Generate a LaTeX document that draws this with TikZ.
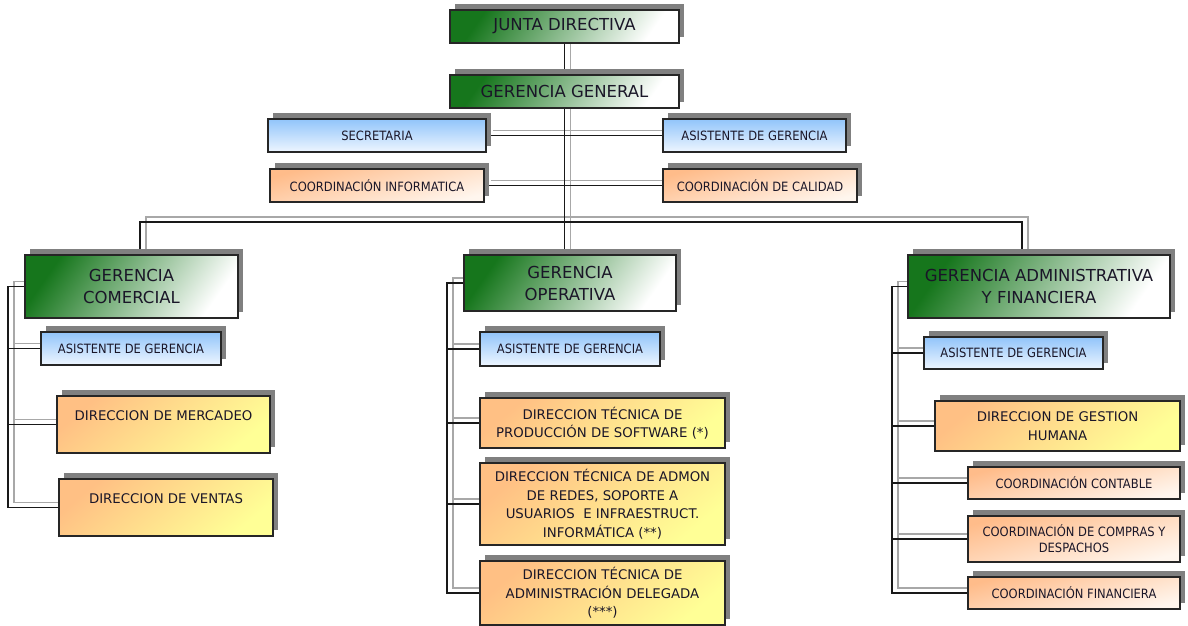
\documentclass[tikz,border=0pt]{standalone}
\usepackage{fontspec}
\setmainfont{DejaVu Sans}
\newfontfamily\condfont[FakeStretch=0.9]{DejaVu Sans}
\usetikzlibrary{shadows,backgrounds}

\definecolor{gdark}{RGB}{22,118,28}
\definecolor{gmid}{RGB}{130,176,130}
\definecolor{bluetop}{RGB}{145,196,250}
\definecolor{bluebot}{RGB}{238,246,255}
\definecolor{peachtop}{RGB}{255,188,138}
\definecolor{peachbot}{RGB}{255,246,238}
\definecolor{dirtop}{RGB}{255,192,132}
\definecolor{dirbot}{RGB}{255,255,150}
\definecolor{shadowgray}{RGB}{128,128,128}
\definecolor{linkgray}{RGB}{168,168,168}
\definecolor{inkdark}{RGB}{26,22,40}

% every connector is drawn twice: a grey offset copy, then the black line
\newcommand{\drawlinks}[1]{%
  \draw[#1] (jd.south) -- (jd.south |- gg.north);
  \draw[#1] (gg.south) -- (gg.south |- gop.north);
  \draw[#1] (gg.south |- bus) -| ([xshift=8.5pt]gcom.north);
  \draw[#1] (gg.south |- bus) -| ([xshift=-17pt]gadm.north);
  \draw[#1] (sec.east) -- (asg.west);
  \draw[#1] (ci.east) -- (cc.west);
  \foreach \c in {la,lm,lv}
    \draw[#1] (gcom.west) -- (gcom.west -| lsp) |- (\c.west);
  \foreach \c in {ma,m1,m2,m3}
    \draw[#1] (gop.west) -- (gop.west -| msp) |- (\c.west);
  \foreach \c in {ra,r1,r2,r3,r4}
    \draw[#1] (gadm.west) -- (gadm.west -| rsp) |- (\c.west);
}

\begin{document}
\begin{tikzpicture}[x=1pt,y=-1pt,
  boxbase/.style={draw=black!85, line width=1.2pt, inner sep=2pt, align=center,
    text=inkdark,
    drop shadow={shadow xshift=5pt, shadow yshift=6pt, opacity=1, fill=shadowgray}},
  mainbox/.style={boxbase, top color=gdark, middle color=gmid, bottom color=white,
    shading angle=55, font=\fontsize{16.5}{22}\selectfont},
  bluebox/.style={boxbase, top color=bluetop, bottom color=bluebot,
    font=\condfont\fontsize{12.8}{16}\selectfont},
  peachbox/.style={boxbase, top color=peachtop, bottom color=peachbot, shading angle=15,
    font=\condfont\fontsize{12.8}{16}\selectfont},
  dirbox/.style={boxbase, top color=dirtop, bottom color=dirbot, shading angle=40,
    font=\fontsize{13.3}{18.5}\selectfont},
  lk/.style={draw=black!90, line width=1.3pt},
  lkshadow/.style={draw=linkgray, line width=1.2pt,
    transform canvas={xshift=6pt, yshift=5pt}}
]
\useasboundingbox (0,0) rectangle (1188,626);

% top of the chart
\node[mainbox, minimum width=229pt, minimum height=33pt] (jd) at (564.5,26.5) {JUNTA DIRECTIVA};
\node[mainbox, minimum width=229pt, minimum height=33pt] (gg) at (564.5,91.5) {GERENCIA GENERAL};
\node[bluebox, minimum width=218pt, minimum height=33pt] (sec) at (377,135.5) {SECRETARIA};
\node[bluebox, minimum width=183pt, minimum height=33pt] (asg) at (754.5,135.5) {ASISTENTE DE GERENCIA};
\node[peachbox, minimum width=214pt, minimum height=33pt] (ci) at (377,185.5) {COORDINACIÓN INFORMATICA};
\node[peachbox, minimum width=194pt, minimum height=33pt] (cc) at (760,185.5) {COORDINACIÓN DE CALIDAD};

% the three managements
\node[mainbox, minimum width=213pt, minimum height=63pt] (gcom) at (131.5,286.5) {GERENCIA\\COMERCIAL};
\node[mainbox, minimum width=212pt, minimum height=56pt] (gop) at (570,283) {GERENCIA\\OPERATIVA};
\node[mainbox, minimum width=262pt, minimum height=63pt] (gadm) at (1039,286.5) {GERENCIA ADMINISTRATIVA\\Y FINANCIERA};

% commercial branch
\node[bluebox, minimum width=180pt, minimum height=33pt] (la) at (131,348.5) {ASISTENTE DE GERENCIA};
\node[dirbox, minimum width=213pt, minimum height=57pt] (lm) at (163.5,424.5) {DIRECCION DE MERCADEO\\\mbox{}};
\node[dirbox, minimum width=214pt, minimum height=57pt] (lv) at (166,507.5) {DIRECCION DE VENTAS\\\mbox{}};

% operative branch
\node[bluebox, minimum width=180pt, minimum height=34pt] (ma) at (570,349) {ASISTENTE DE GERENCIA};
\node[dirbox, minimum width=245pt, minimum height=50pt] (m1) at (602.5,423) {DIRECCION TÉCNICA DE\\PRODUCCIÓN DE SOFTWARE (*)};
\node[dirbox, minimum width=245pt, minimum height=82pt] (m2) at (602.5,504) {DIRECCION TÉCNICA DE ADMON\\DE REDES, SOPORTE A\\USUARIOS\ \ E INFRAESTRUCT.\\INFORMÁTICA (**)};
\node[dirbox, minimum width=245pt, minimum height=64pt] (m3) at (602.5,593) {DIRECCION TÉCNICA DE\\ADMINISTRACIÓN DELEGADA\\(***)};

% administrative branch
\node[bluebox, minimum width=179pt, minimum height=32pt] (ra) at (1013.5,353) {ASISTENTE DE GERENCIA};
\node[dirbox, minimum width=245pt, minimum height=50pt] (r1) at (1057.5,426) {DIRECCION DE GESTION\\HUMANA};
\node[peachbox, minimum width=212pt, minimum height=32pt] (r2) at (1074,483) {COORDINACIÓN CONTABLE};
\node[peachbox, minimum width=212pt, minimum height=46pt] (r3) at (1074,539) {COORDINACIÓN DE COMPRAS Y\\DESPACHOS};
\node[peachbox, minimum width=212pt, minimum height=32pt] (r4) at (1074,593) {COORDINACIÓN FINANCIERA};

% routing guides for the connectors
\coordinate (bus) at (0,222);
\coordinate (lsp) at (8,0);
\coordinate (msp) at (447,0);
\coordinate (rsp) at (892,0);

\begin{pgfonlayer}{background}
  \fill[white] (0,0) rectangle (1188,626);
  \drawlinks{lkshadow}
  \drawlinks{lk}
\end{pgfonlayer}
\end{tikzpicture}
\end{document}
